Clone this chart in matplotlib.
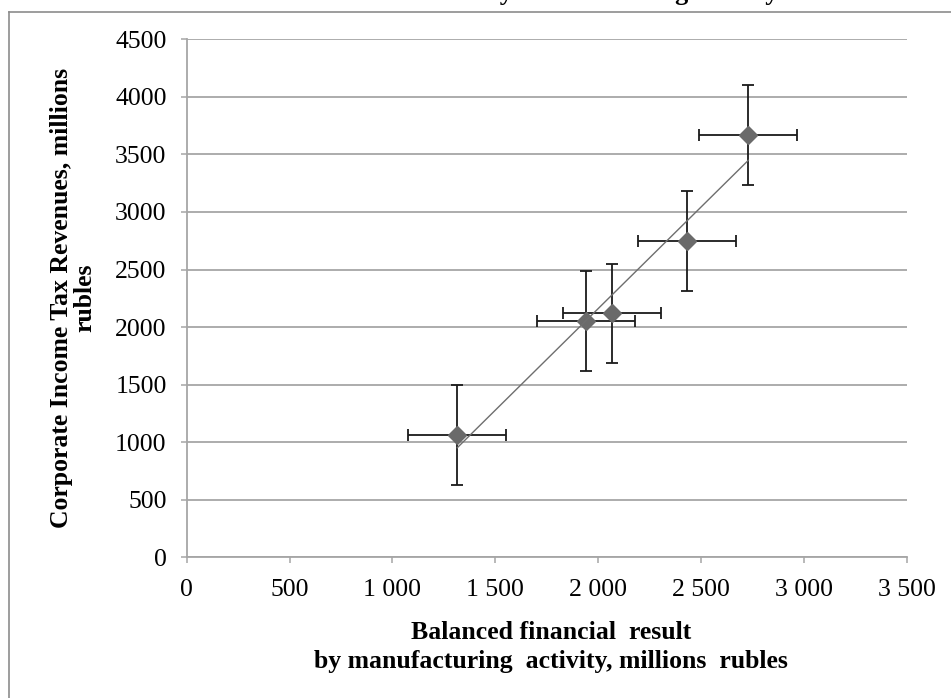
import numpy as np
import matplotlib.pyplot as plt
from matplotlib.lines import Line2D

plt.rcParams['font.family'] = ['Liberation Serif', 'DejaVu Serif']

# balanced financial result (x) vs corporate income tax revenues (y), millions rubles
x_vals = [1315, 1941, 2066, 2431, 2730]
y_vals = [1063, 2053, 2120, 2748, 3669]
x_err = [238, 238, 238, 238, 238]
y_err = [432, 432, 432, 432, 432]

x_ticks = [0, 500, 1000, 1500, 2000, 2500, 3000, 3500]
x_tick_labels = ['0', '500', '1 000', '1 500', '2 000', '2 500', '3 000', '3 500']
y_ticks = [0, 500, 1000, 1500, 2000, 2500, 3000, 3500, 4000, 4500]

W, H = 951, 698
fig = plt.figure(figsize=(W / 100, H / 100), dpi=100)
ax = fig.add_axes([186.7 / W, 1 - 557.3 / H, 720 / W, 518 / H])

ax.set_xlim(0, 3500)
ax.set_ylim(0, 4500)
ax.set_xticks(x_ticks)
ax.set_xticklabels(x_tick_labels)
ax.set_yticks(y_ticks)

grey = '#a6a6a6'
ax.yaxis.grid(True, color=grey, lw=1.3)
ax.set_axisbelow(True)
for s in ['top', 'right']:
    ax.spines[s].set_visible(False)
for s in ['left', 'bottom']:
    ax.spines[s].set_color(grey)
    ax.spines[s].set_linewidth(1.3)
ax.tick_params(direction='out', length=4.5, width=1.1, color=grey, labelsize=18.5)
ax.tick_params(axis='y', pad=10)
ax.tick_params(axis='x', pad=11)

# error bars
ax.errorbar(x_vals, y_vals, xerr=x_err, yerr=y_err, fmt='none', ecolor='#1a1a1a',
            elinewidth=1.3, capsize=4.6, capthick=1.3, zorder=3)

# markers
ax.plot(x_vals, y_vals, 'D', ms=9, color='#6a6a6a', zorder=4)

# linear trend line
coef = np.polyfit(x_vals, y_vals, 1)
xs = np.array([min(x_vals), max(x_vals)])
ax.plot(xs, np.polyval(coef, xs), color='#6e6e6e', lw=1.0, zorder=5)

# axis titles
fig.text(551 / W, 1 - 647 / H, 'Balanced financial  result\nby manufacturing  activity, millions  rubles',
         ha='center', va='center', fontsize=18.5, fontweight='bold', linespacing=1.3,
         multialignment='center')
fig.text(73 / W, 1 - 298 / H, 'Corporate Income Tax Revenues, millions\nrubles',
         rotation=90, ha='center', va='center', fontsize=18.5, fontweight='bold',
         linespacing=1.05, multialignment='center')

# chart title, cut off by the top edge (only descenders show)
fig.text(484.5 / W, 1.0, 'by manufacturing activity', ha='left', va='baseline',
         fontsize=19, fontweight='bold')

# chart area border
fig.add_artist(Line2D([9.3 / W, 9.3 / W], [0, 1 - 12 / H], transform=fig.transFigure,
                      color='#8c8c8c', lw=1.2))
fig.add_artist(Line2D([9.3 / W, 1], [1 - 12 / H, 1 - 12 / H], transform=fig.transFigure,
                      color='#8c8c8c', lw=1.2))

fig.savefig('out.png', dpi=100)
